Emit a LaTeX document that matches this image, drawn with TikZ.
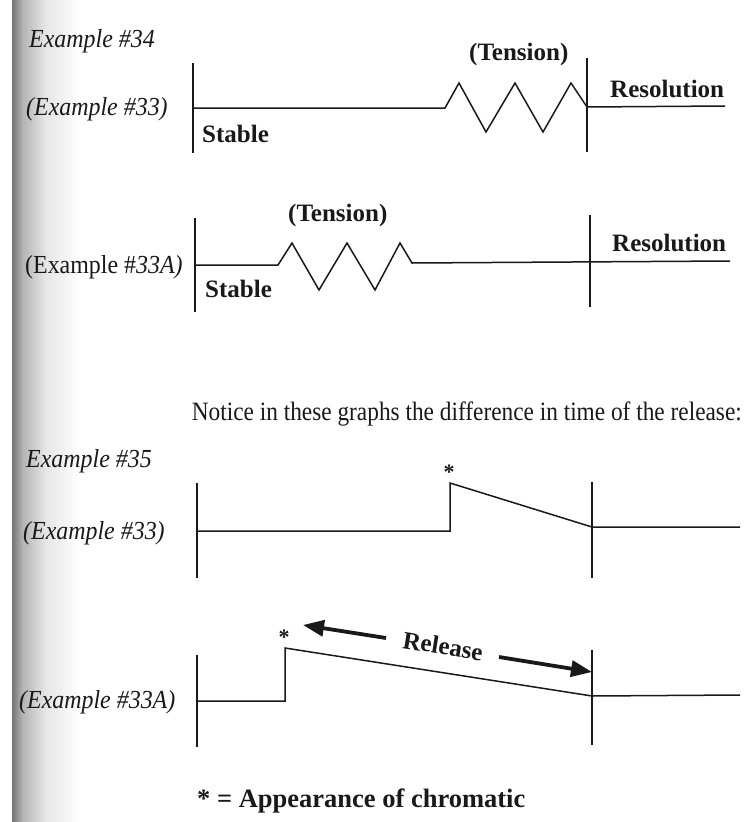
\documentclass[tikz,border=0pt]{standalone}
\usepackage{fontspec}
\usepackage{graphicx}
\setmainfont{Liberation Serif}
\usetikzlibrary{arrows.meta}
\newcommand{\cond}[1]{\scalebox{0.92}[1]{#1}}
\begin{document}
\begin{tikzpicture}[x=1pt,y=-1pt,
  exlbl/.style={font=\fontsize{26}{30}\selectfont, inner sep=0pt, anchor=base west, text=black!90},
  boldlbl/.style={font=\fontsize{25}{29}\selectfont\bfseries, inner sep=0pt, text=black!90},
  plainlbl/.style={font=\fontsize{26.5}{30}\selectfont, inner sep=0pt, text=black!90},
  starlbl/.style={font=\fontsize{22}{26}\selectfont\bfseries, inner sep=0pt, anchor=base, text=black!90},
  axisline/.style={line width=1.3pt, black!90},
  curve/.style={line width=1.5pt, black!90, line join=miter},
  relarrow/.style={line width=3.8pt, black!90, -{Triangle[length=21pt,width=16pt]}}
]
\useasboundingbox (0,0) rectangle (744,822);
\fill[white] (0,0) rectangle (744,822);
\shade[left color=black!55, right color=black!30] (12,0) rectangle (22,822);
\shade[left color=black!30, right color=black!10] (22,0) rectangle (45,822);
\shade[left color=black!10, right color=white] (45,0) rectangle (80,822);

% ---------- Graph 1: Example #34 ----------
\node[exlbl] (ex34) at (29,47) {\cond{\itshape Example \#34}};
\node[exlbl] (ex33a) at (26,115) {\cond{\itshape (Example \#33)}};
\coordinate (g1ta) at (193,63);
\coordinate (g1ba) at (193,153);
\coordinate (g1tb) at (587,58);
\coordinate (g1bb) at (587,152);
\draw[axisline] (g1ta) -- (g1ba);
\draw[axisline] (g1tb) -- (g1bb);
\coordinate (g1s) at (193,108);
\coordinate (g1e) at (725,106);
\draw[curve] (g1s) -- (445,108) -- (459,83) -- (486,132) -- (515,83) -- (543,132) -- (571,83) -- (587,107) -- (g1e);
\node[boldlbl, anchor=base west] (stable1) at (202,142) {Stable};
\node[boldlbl, anchor=base west] (tens1) at (469,60) {(Tension)};
\node[boldlbl, anchor=base west] (res1) at (610,97) {Resolution};

% ---------- Graph 2: Example #33A ----------
\node[exlbl] (ex33b) at (25,273) {\cond{(Example \#\textit{33A)}}};
\coordinate (g2ta) at (195,218);
\coordinate (g2ba) at (195,312);
\coordinate (g2tb) at (590,215);
\coordinate (g2bb) at (590,307);
\draw[axisline] (g2ta) -- (g2ba);
\draw[axisline] (g2tb) -- (g2bb);
\coordinate (g2s) at (195,265);
\coordinate (g2e) at (730,261);
\draw[curve] (g2s) -- (278,265) -- (292,243) -- (319,290) -- (347,243) -- (375,290) -- (400,243) -- (412,263) -- (g2e);
\node[boldlbl, anchor=base west] (stable2) at (205,297) {Stable};
\node[boldlbl, anchor=base west] (tens2) at (288,221) {(Tension)};
\node[boldlbl, anchor=base west] (res2) at (612,251) {Resolution};

% ---------- Notice ----------
\node[plainlbl, anchor=base east] (notice) at (742,420) {\scalebox{0.88}[1]{Notice in these graphs the difference in time of the release:}};

% ---------- Graph 3: Example #35 ----------
\node[exlbl] (ex35) at (26,467) {\cond{\itshape Example \#35}};
\node[exlbl] (ex33c) at (23,539) {\cond{\itshape (Example \#33)}};
\coordinate (g3ta) at (197,483);
\coordinate (g3ba) at (197,578);
\coordinate (g3tb) at (592,482);
\coordinate (g3bb) at (592,578);
\draw[axisline] (g3ta) -- (g3ba);
\draw[axisline] (g3tb) -- (g3bb);
\coordinate (g3s) at (197,531);
\coordinate (g3e) at (740,527);
\draw[curve] (g3s) -- (450,531) -- (450,483) -- (592,527) -- (g3e);
\node[starlbl] (star1) at (449,479) {*};

% ---------- Graph 4: Example #33A ----------
\node[exlbl] (ex33d) at (19,708) {\cond{\itshape (Example \#33A)}};
\coordinate (g4ta) at (197,655);
\coordinate (g4ba) at (197,747);
\coordinate (g4tb) at (592,650);
\coordinate (g4bb) at (592,745);
\draw[axisline] (g4ta) -- (g4ba);
\draw[axisline] (g4tb) -- (g4bb);
\coordinate (g4s) at (197,701);
\coordinate (g4e) at (740,695);
\draw[curve] (g4s) -- (285,701) -- (285,648) -- (592,696) -- (g4e);
\node[starlbl] (star2) at (284,644) {*};
\node[boldlbl, rotate=-9] (release) at (443,646) {Release};
\coordinate (alt) at (386,638);
\coordinate (alh) at (303,625);
\coordinate (art) at (499,657);
\coordinate (arh) at (592,672);
\draw[relarrow] (alt) -- (alh);
\draw[relarrow] (art) -- (arh);

% ---------- Footnote ----------
\node[boldlbl, anchor=base west, font=\fontsize{26.5}{30}\selectfont\bfseries] (foot) at (197,807) {* = Appearance of chromatic};
\end{tikzpicture}
\end{document}
